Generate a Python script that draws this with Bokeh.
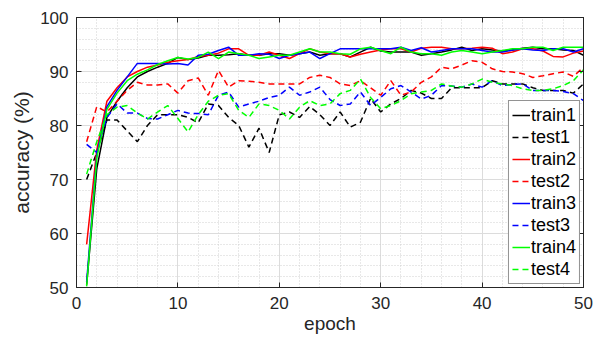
from bokeh.plotting import figure
from bokeh.models import Legend, LegendItem, LinearAxis, FixedTicker, Range1d
from bokeh.embed import file_html
from bokeh.resources import INLINE

epochs = list(range(1, 51))

train1 = [50.5, 72, 81.5, 84.5, 87, 89, 90, 90.8, 91.5, 92.6,
          92.2, 92.5, 93, 93, 93.1, 93.3, 93, 93, 93.3, 93.3,
          93, 93.3, 93.6, 93, 93.3, 93.3, 92.7, 93.6, 94.5, 93.8,
          93.6, 93.6, 93.6, 93, 93.3, 93.6, 94, 94.5, 93.9, 94.2,
          94, 93.8, 94, 94.3, 94.5, 94.2, 94.2, 94, 93.9, 93]
test1 = [70, 75, 81, 81, 79, 77, 80, 82, 82, 82,
         81.5, 80.5, 84, 83.7, 81.5, 80, 76, 79.5, 75, 82,
         82.5, 81.5, 83.5, 82, 80, 82.5, 79.7, 80.6, 85, 82.5,
         84, 85, 86.5, 86, 85, 85, 87, 87, 87, 87,
         88.3, 87.7, 87.7, 87.7, 87, 86.5, 86.5, 86.5, 86, 87.7]
train2 = [58, 75.5, 84.5, 87, 89, 90, 90.8, 91.2, 91.7, 92,
          92.2, 92.8, 93, 93.4, 94.2, 94.2, 93, 93, 93.6, 93,
          92.4, 93.3, 94.2, 93.6, 93.3, 93.3, 92.7, 93.2, 93.6, 94,
          94.2, 94.2, 93.6, 94.3, 94.5, 94.5, 94.2, 94.2, 94.3, 94.5,
          94.3, 93.3, 93.6, 94.2, 94.2, 93.8, 92.8, 92.7, 93.4, 93.8]
test2 = [77, 83.5, 82.5, 84.5, 86.5, 88, 87.5, 87.5, 87.7, 86,
         88.3, 88.8, 85.6, 90.2, 87.1, 88.3, 88.2, 88, 87.7, 87.7,
         87.7, 87.7, 88.9, 89.3, 88.9, 87.7, 87.4, 88.3, 87, 85.6,
         88.3, 85.6, 86.2, 88, 89, 90.8, 90.5, 91.2, 92, 91.7,
         90.5, 90, 89.9, 89.6, 88.9, 89.2, 89.6, 89.9, 89.1, 90.8]
train3 = [51, 74.5, 83.5, 86.5, 89, 91.5, 91.5, 91.5, 91.4, 91.5,
          91.2, 93, 93.2, 93.9, 94.5, 93, 93, 93.3, 93.2, 92.4,
          93, 93.3, 93.6, 92.4, 93.3, 94.2, 94.2, 94.2, 94.2, 94.2,
          94.2, 94.5, 93.9, 94.4, 93.6, 93.9, 94.2, 94.2, 94.2, 93.9,
          93.6, 93.6, 94, 94.2, 94, 93.9, 94.2, 94.2, 93.6, 94.2]
test3 = [76.5, 75, 81.5, 84, 82.3, 82.3, 81.3, 81.2, 82, 82.8,
         82.3, 82.2, 82, 85.6, 86.2, 83.4, 84, 84.5, 85.2, 85.6,
         87.1, 85.6, 86.2, 87.1, 84.8, 83.7, 84, 86.2, 83.7, 85.2,
         86.8, 87.4, 86.2, 84.9, 85.6, 87.4, 87.3, 87.1, 87.7, 87.1,
         88.3, 87.4, 87.6, 87.7, 86.5, 86.5, 86.5, 86.3, 85.9, 84.6]
train4 = [50.2, 74, 83, 86, 88.3, 89.5, 90.3, 91.3, 92, 92.6,
          92.3, 92.6, 93.6, 92.4, 93.6, 93.3, 93, 92.4, 92.7, 93,
          93, 93.6, 94.2, 93.6, 93.6, 93.3, 93.2, 94.2, 94.5, 93.9,
          93.3, 94.5, 93.6, 93.3, 93.3, 93, 93.6, 93.9, 93.6, 93.3,
          93.6, 93.9, 94.2, 94.2, 94.5, 94.5, 93.9, 94.5, 94.5, 94.5]
test4 = [71, 77, 82, 83.4, 83.7, 82.3, 81.2, 82.5, 83.7, 81.3,
         78.8, 82, 84.5, 85.6, 85.9, 82.8, 81.5, 84, 83.7, 82.8,
         81.2, 83.4, 84.6, 83.7, 84, 85.9, 86.5, 88.6, 85.2, 83.1,
         83.7, 84.6, 85.9, 86.2, 86.5, 87.7, 87.3, 87.1, 87.7, 88.6,
         88, 87.7, 87.4, 86.8, 86.5, 86.5, 86.8, 87.4, 88.3, 90.3]

series = [
    ("train1", train1, "#000000", "solid"),
    ("test1", test1, "#000000", "6 4"),
    ("train2", train2, "#ff0000", "solid"),
    ("test2", test2, "#ff0000", "6 4"),
    ("train3", train3, "#0000ff", "solid"),
    ("test3", test3, "#0000ff", "6 4"),
    ("train4", train4, "#00ff00", "solid"),
    ("test4", test4, "#00ff00", "6 4"),
]

x_ticks = [0, 10, 20, 30, 40, 50]
y_ticks = [50, 60, 70, 80, 90, 100]
x_minor = list(range(0, 51, 2))
y_minor = list(range(50, 101, 2))

FONT = "Liberation Sans"
TXT = "#262626"

p = figure(width=597, height=339, x_range=Range1d(0, 50), y_range=Range1d(50, 100),
           output_backend="svg", toolbar_location=None,
           min_border_left=76, min_border_right=14, min_border_top=17, min_border_bottom=52)

xa = p.below[0]
ya = p.left[0]
xa.axis_label = "epoch"
ya.axis_label = "accuracy (%)"

top = LinearAxis()
right = LinearAxis()
p.add_layout(top, "above")
p.add_layout(right, "right")

for ax in [xa, top]:
    ax.ticker = FixedTicker(ticks=x_ticks, minor_ticks=x_minor)
for ax in [ya, right]:
    ax.ticker = FixedTicker(ticks=y_ticks, minor_ticks=y_minor)

for ax in [xa, ya, top, right]:
    ax.major_tick_in = 5
    ax.major_tick_out = 0
    ax.minor_tick_in = 0
    ax.minor_tick_out = 0
    ax.major_tick_line_color = TXT
    ax.axis_line_color = TXT

for ax in [xa, ya]:
    ax.major_label_text_font = FONT
    ax.major_label_text_color = TXT
    ax.major_label_text_font_size = "17px"
    ax.axis_label_text_font = FONT
    ax.axis_label_text_color = TXT
    ax.axis_label_text_font_style = "normal"

for ax in [top, right]:
    ax.major_label_overrides = {t: "" for t in (x_ticks if ax is top else y_ticks)}
    ax.major_label_text_font_size = "1px"
    ax.major_label_text_alpha = 0
    ax.major_label_standoff = 0

xa.major_label_standoff = 9
ya.major_label_standoff = 8
xa.axis_label_text_font_size = "19px"
ya.axis_label_text_font_size = "21px"
xa.axis_label_standoff = 1
ya.axis_label_standoff = 4

p.xgrid.ticker = FixedTicker(ticks=x_ticks, minor_ticks=x_minor)
p.ygrid.ticker = FixedTicker(ticks=y_ticks, minor_ticks=y_minor)
for g in [p.xgrid, p.ygrid]:
    g.grid_line_color = "#dcdcdc"
    g.grid_line_width = 1
    g.minor_grid_line_color = "#d0d0d0"
    g.minor_grid_line_dash = "1 2"
    g.minor_grid_line_width = 1

p.outline_line_color = TXT
p.outline_line_width = 1
p.background_fill_color = "white"
p.border_fill_color = "white"

items = []
for name, ys, color, dash in series:
    r = p.line(epochs, ys, line_color=color, line_width=1.5, line_dash=dash)
    items.append(LegendItem(label=name, renderers=[r]))

legend = Legend(items=items, location="bottom_right", margin=3, padding=3, spacing=0,
                glyph_width=18, glyph_height=20, label_height=22, label_standoff=1,
                label_text_font=FONT, label_text_font_size="18px", label_text_color="#000000",
                border_line_color=TXT, border_line_width=1,
                background_fill_color="white", background_fill_alpha=1.0)
p.add_layout(legend)

open("out.html", "w").write(file_html(p, INLINE))
